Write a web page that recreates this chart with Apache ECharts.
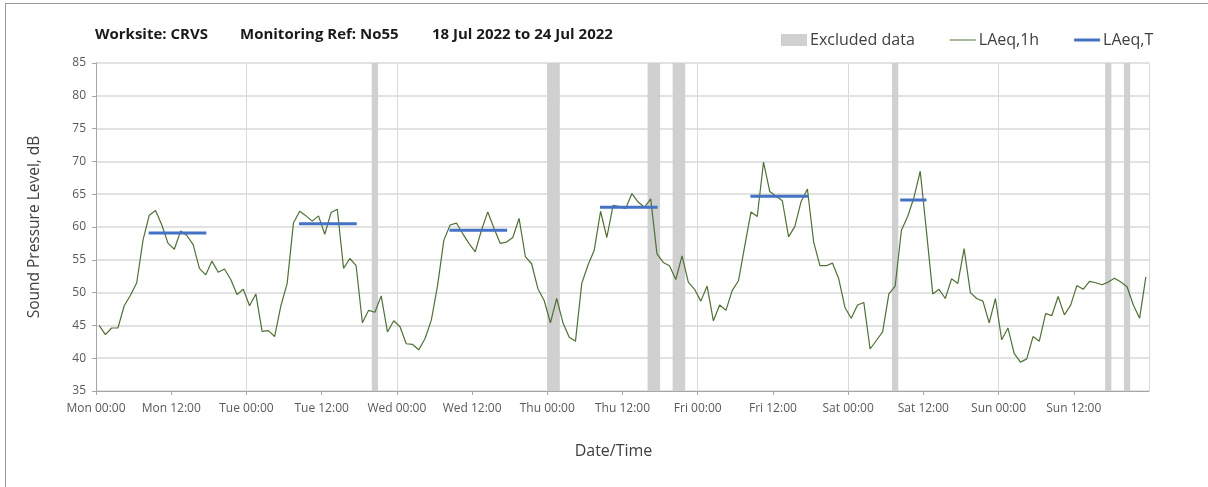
<!DOCTYPE html>
<html>
<head>
<meta charset="utf-8">
<script src="https://cdn.jsdelivr.net/npm/echarts@6/dist/echarts.min.js"></script>
<style>
  html, body { margin: 0; padding: 0; background: #ffffff; overflow: hidden; }
  #frame { position: absolute; left: 5px; top: 3px; width: 1260px; height: 520px; border: 1px solid #9a9a9a; box-sizing: border-box; }
  #chart { position: absolute; left: 0; top: 0; width: 1208px; height: 487px; }
</style>
</head>
<body>
<div id="frame"></div>
<div id="chart"></div>
<script>
// ---- Data ----
const titleParts = ['Worksite: CRVS', 'Monitoring Ref: No55', '18 Jul 2022 to 24 Jul 2022'];
const xTickLabels = ['Mon 00:00','Mon 12:00','Tue 00:00','Tue 12:00','Wed 00:00','Wed 12:00','Thu 00:00','Thu 12:00',
                     'Fri 00:00','Fri 12:00','Sat 00:00','Sat 12:00','Sun 00:00','Sun 12:00'];
// hourly LAeq,1h values, hour 0 = Mon 00:00
const laeq1h = [
  45.0, 43.6, 44.6, 44.6, 48.0, 49.6, 51.5, 58.0, 61.8, 62.5, 60.3, 57.5, 56.6, 59.4, 58.7, 57.3, 53.7, 52.7, 54.8, 53.1, 53.6, 52.0, 49.7, 50.5,
  48.0, 49.8, 44.1, 44.2, 43.3, 48.0, 51.4, 60.6, 62.4, 61.7, 60.9, 61.7, 58.9, 62.2, 62.7, 53.7, 55.2, 54.1, 45.4, 47.3, 47.0, 49.5, 44.0, 45.7,
  44.8, 42.2, 42.1, 41.3, 43.0, 45.8, 51.1, 58.0, 60.3, 60.6, 59.0, 57.5, 56.2, 59.5, 62.3, 59.8, 57.5, 57.7, 58.4, 61.3, 55.5, 54.4, 50.6, 48.8,
  45.4, 49.1, 45.4, 43.2, 42.6, 51.4, 54.2, 56.5, 62.4, 58.4, 63.3, 63.1, 62.8, 65.1, 63.8, 63.0, 64.3, 55.9, 54.6, 54.1, 52.0, 55.6, 51.6, 50.5,
  48.7, 51.0, 45.7, 48.1, 47.3, 50.3, 51.8, 57.1, 62.3, 61.6, 69.9, 65.4, 64.7, 64.0, 58.5, 60.1, 63.9, 65.8, 57.7, 54.1, 54.1, 54.5, 52.1, 47.7,
  46.1, 48.1, 48.5, 41.4, 42.7, 44.0, 49.8, 51.0, 59.5, 61.6, 64.5, 68.5, 59.3, 49.8, 50.5, 49.1, 52.1, 51.4, 56.7, 50.0, 49.1, 48.7, 45.4, 49.1,
  42.8, 44.6, 40.7, 39.4, 39.9, 43.3, 42.6, 46.8, 46.5, 49.4, 46.6, 48.1, 51.1, 50.5, 51.7, 51.5, 51.2, 51.6, 52.2, 51.6, 50.9, 48.1, 46.1, 52.4
];
// LAeq,T periods (hours from Mon 00:00)
const periodStart = [8.4, 32.4, 56.4, 80.4, 104.4, 128.3];
const periodEnd   = [17.6, 41.6, 65.6, 89.6, 113.6, 132.5];
const periodLevel = [59.1, 60.5, 59.5, 63.0, 64.7, 64.1];
// Excluded data intervals (hours)
const excludedStart = [44, 72, 88, 92, 127, 161, 164];
const excludedEnd   = [45, 74, 90, 94, 128, 162, 165];

// ---- Build ----
const lineData = laeq1h.map((v, i) => [i + 0.5, v]);
const periodSeries = periodLevel.map((lv, i) => ({
  name: 'LAeq,T', type: 'line', symbol: 'none', silent: true, z: 4,
  lineStyle: { color: '#4472c4', width: 3 }, itemStyle: { color: '#4472c4' },
  data: [[periodStart[i], lv], [periodEnd[i], lv]]
}));
const areas = excludedStart.map((s, i) => [{ xAxis: s }, { xAxis: excludedEnd[i] }]);

const chart = echarts.init(document.getElementById('chart'));
const font = '"Open Sans", sans-serif';
const titleX = [95, 240, 432];
chart.setOption({
  animation: false,
  backgroundColor: 'transparent',
  textStyle: { fontFamily: font },
  graphic: titleParts.map((t, i) => ({
    type: 'text', left: titleX[i], top: 27,
    style: { text: t, font: 'bold 15px ' + font, fill: '#1a1a1a' }
  })),
  legend: {
    left: 776, top: 27, itemWidth: 26, itemHeight: 12, itemGap: 35,
    textStyle: { fontSize: 16, color: '#404040', fontFamily: font, padding: [0, 0, 0, -2] },
    data: [
      { name: 'Excluded data', icon: 'rect', itemStyle: { color: '#d0d0d0' } },
      { name: 'LAeq,1h', icon: 'path://M0,0h26v1h-26z', itemStyle: { color: '#4f7036' } },
      { name: 'LAeq,T', icon: 'path://M0,0h26v3h-26z', itemStyle: { color: '#4472c4' } }
    ]
  },
  grid: { left: 96, top: 63, right: 59, bottom: 96, containLabel: false },
  xAxis: [{
    type: 'value', min: 0, max: 168, interval: 12,
    name: 'Date/Time', nameLocation: 'middle', nameGap: 52,
    nameTextStyle: { fontSize: 16, color: '#404040', padding: [0, 18, 0, 0] },
    axisLine: { show: true, lineStyle: { color: '#a6a6a6', width: 1 } },
    axisTick: { show: true, length: 4, lineStyle: { color: '#a6a6a6' } },
    axisLabel: {
      fontSize: 12, color: '#595959', margin: 12, showMaxLabel: false,
      formatter: v => xTickLabels[Math.round(v / 12)] || ''
    },
    splitLine: { show: false }
  }, {
    type: 'value', min: 0, max: 168, interval: 24, position: 'top',
    axisLine: { show: false }, axisTick: { show: false }, axisLabel: { show: false },
    splitLine: { show: true, lineStyle: { color: '#d9d9d9', width: 1 } }
  }],
  yAxis: {
    type: 'value', min: 35, max: 85, interval: 5,
    name: 'Sound Pressure Level, dB', nameLocation: 'middle', nameGap: 53,
    nameTextStyle: { fontSize: 15.5, color: '#404040' },
    axisLine: { show: true, lineStyle: { color: '#a6a6a6', width: 1 } },
    axisTick: { show: true, length: 4, lineStyle: { color: '#a6a6a6' } },
    axisLabel: { fontSize: 12, color: '#595959', margin: 10 },
    splitLine: { show: true, lineStyle: { color: '#d9d9d9', width: 1.5 } }
  },
  series: [
    {
      name: 'Excluded data', type: 'line', data: [], symbol: 'none', z: 1,
      itemStyle: { color: '#d0d0d0' }, lineStyle: { color: '#d0d0d0' },
      markArea: { silent: true, itemStyle: { color: '#d0d0d0', opacity: 1 }, data: areas }
    },
    {
      name: 'LAeq,1h', type: 'line', symbol: 'none', z: 3,
      lineStyle: { color: '#4f7036', width: 1.2 }, itemStyle: { color: '#4f7036' },
      data: lineData
    },
    ...periodSeries
  ]
});
</script>
</body>
</html>
